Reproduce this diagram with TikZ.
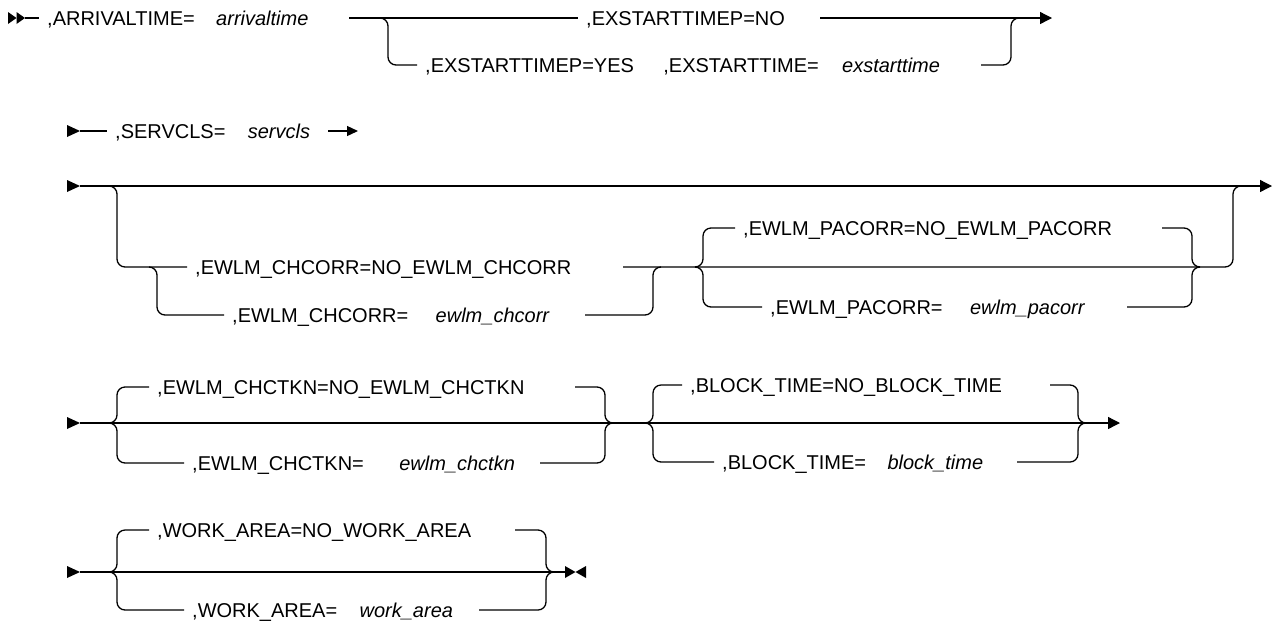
\documentclass[tikz,border=0pt]{standalone}
\usepackage{fontspec}
\setmainfont{Liberation Sans}
\usetikzlibrary{positioning}
\usetikzlibrary{arrows.meta}

\tikzset{
  rail/.style={line width=1.3pt, rounded corners=8pt},
  kw/.style={anchor=west, inner xsep=8pt, inner ysep=0pt, text height=14pt, text depth=0pt,
    font=\fontsize{20}{22}\selectfont},
  varname/.style={kw, font=\fontsize{20}{22}\selectfont\itshape},
  goon/.style={-{Triangle[length=12pt,width=12pt]}},
}

\begin{document}
\begin{tikzpicture}[x=1pt,y=-1pt]
  \useasboundingbox (0,0) rectangle (1276,622);

  % row 1
  \fill (8,12) -- (16.5,18) -- (8,24) -- cycle;
  \fill (16.5,12) -- (25,18) -- (16.5,24) -- cycle;
  \node[kw] (arr) at (39,18) {,ARRIVALTIME=};
  \node[varname, right=5pt of arr] (arrv) {arrivaltime};
  \node[kw] (exno) at (578,18) {,EXSTARTTIMEP=NO};
  \node[kw] (exyes) at (417,65) {,EXSTARTTIMEP=YES};
  \node[kw, right=13pt of exyes] (ext) {,EXSTARTTIME=};
  \node[varname, right=7pt of ext] (extv) {exstarttime};
  \coordinate (r1s) at (25,18);
  \coordinate (r1a) at (349,18);
  \coordinate (r1j) at (388,18);
  \coordinate (r1b) at (820,18);
  \coordinate (r1c) at (981,65);
  \coordinate (r1k) at (1011,18);
  \coordinate (r1e) at (1052,18);
  \draw[rail] (r1s) -- (arr.west);
  \draw[rail] (r1a) -- (exno.west);
  \draw[rail,goon] (r1b) -- (r1e);
  \draw[rail] ([xshift=-8pt]r1j) -- (r1j) |- (exyes.west);
  \draw[rail] (r1c) -| (r1k) -- ++(8,0);

  % row 2
  \foreach \y in {131,186,423,572}
    \fill (67,{\y-6}) -- (80,\y) -- (67,{\y+6}) -- cycle;
  \node[kw] (serv) at (107,131) {,SERVCLS=};
  \node[varname, right=6pt of serv] (servv) {servcls};
  \coordinate (r2s) at (80,131);
  \coordinate (r2a) at (328,131);
  \coordinate (r2e) at (358,131);
  \draw[rail] (r2s) -- (serv.west);
  \draw[rail,-{Triangle[length=11pt,width=10pt]}] (r2a) -- (r2e);

  % row 3
  \node[kw] (chno) at (187,267) {,EWLM\_CHCORR=NO\_EWLM\_CHCORR};
  \node[kw] (chyes) at (224,315) {,EWLM\_CHCORR=};
  \node[varname, right=11pt of chyes] (chv) {ewlm\_chcorr};
  \node[kw] (pano) at (735,228) {,EWLM\_PACORR=NO\_EWLM\_PACORR};
  \node[kw] (payes) at (762,307) {,EWLM\_PACORR=};
  \node[varname, right=11pt of payes] (pav) {ewlm\_pacorr};
  \coordinate (r3s) at (80,186);
  \coordinate (r3e) at (1272,186);
  \coordinate (r3j) at (117,186);
  \coordinate (r3k) at (157,267);
  \coordinate (r3a) at (623,267);
  \coordinate (r3b) at (1233,186);
  \coordinate (r3c) at (585,315);
  \coordinate (r3m) at (653,267);
  \coordinate (r3p) at (703,267);
  \coordinate (r3d) at (1162,228);
  \coordinate (r3f) at (1127,307);
  \coordinate (r3q) at (1192,267);
  \draw[rail,goon] (r3s) -- (r3e);
  \draw[rail] ([xshift=-8pt]r3j) -- (r3j) |- (chno.west);
  \draw[rail] ([xshift=-8pt]r3k) -- (r3k) |- (chyes.west);
  \draw[rail] (r3a) -| (r3b) -- ++(8,0);
  \draw[rail] (r3c) -| (r3m) -- ++(8,0);
  \draw[rail] ([xshift=-8pt]r3p) -- (r3p) |- (pano.west);
  \draw[rail] ([xshift=-8pt]r3p) -- (r3p) |- (payes.west);
  \draw[rail] (r3d) -| (r3q) -- ++(8,0);
  \draw[rail] (r3f) -| (r3q) -- ++(8,0);

  % row 4
  \node[kw] (tkno) at (149,387) {,EWLM\_CHCTKN=NO\_EWLM\_CHCTKN};
  \node[kw] (tkyes) at (184,463) {,EWLM\_CHCTKN=};
  \node[varname, right=19pt of tkyes] (tkv) {ewlm\_chctkn};
  \node[kw] (bno) at (682,385) {,BLOCK\_TIME=NO\_BLOCK\_TIME};
  \node[kw] (byes) at (714,462) {,BLOCK\_TIME=};
  \node[varname, right=5pt of byes] (bv) {block\_time};
  \coordinate (r4s) at (80,423);
  \coordinate (r4e) at (1120,423);
  \coordinate (r4j) at (117,423);
  \coordinate (r4a) at (575,387);
  \coordinate (r4b) at (540,463);
  \coordinate (r4k) at (605,423);
  \coordinate (r4m) at (653,423);
  \coordinate (r4c) at (1050,385);
  \coordinate (r4d) at (1017,462);
  \coordinate (r4n) at (1078,423);
  \draw[rail,goon] (r4s) -- (r4e);
  \draw[rail] ([xshift=-8pt]r4j) -- (r4j) |- (tkno.west);
  \draw[rail] ([xshift=-8pt]r4j) -- (r4j) |- (tkyes.west);
  \draw[rail] (r4a) -| (r4k) -- ++(8,0);
  \draw[rail] (r4b) -| (r4k) -- ++(8,0);
  \draw[rail] ([xshift=-8pt]r4m) -- (r4m) |- (bno.west);
  \draw[rail] ([xshift=-8pt]r4m) -- (r4m) |- (byes.west);
  \draw[rail] (r4c) -| (r4n) -- ++(8,0);
  \draw[rail] (r4d) -| (r4n) -- ++(8,0);

  % row 5
  \node[kw] (wno) at (149,530) {,WORK\_AREA=NO\_WORK\_AREA};
  \node[kw] (wyes) at (184,610) {,WORK\_AREA=};
  \node[varname, right=6pt of wyes] (wv) {work\_area};
  \coordinate (r5s) at (80,572);
  \coordinate (r5e) at (565,572);
  \coordinate (r5j) at (117,572);
  \coordinate (r5a) at (515,530);
  \coordinate (r5b) at (479,610);
  \coordinate (r5k) at (546,572);
  \draw[rail] (r5s) -- (r5e);
  \draw[rail] ([xshift=-8pt]r5j) -- (r5j) |- (wno.west);
  \draw[rail] ([xshift=-8pt]r5j) -- (r5j) |- (wyes.west);
  \draw[rail] (r5a) -| (r5k) -- ++(8,0);
  \draw[rail] (r5b) -| (r5k) -- ++(8,0);
  \fill (565,566) -- (575.5,572) -- (565,578) -- cycle;
  \fill (586,566) -- (575.5,572) -- (586,578) -- cycle;
\end{tikzpicture}
\end{document}
